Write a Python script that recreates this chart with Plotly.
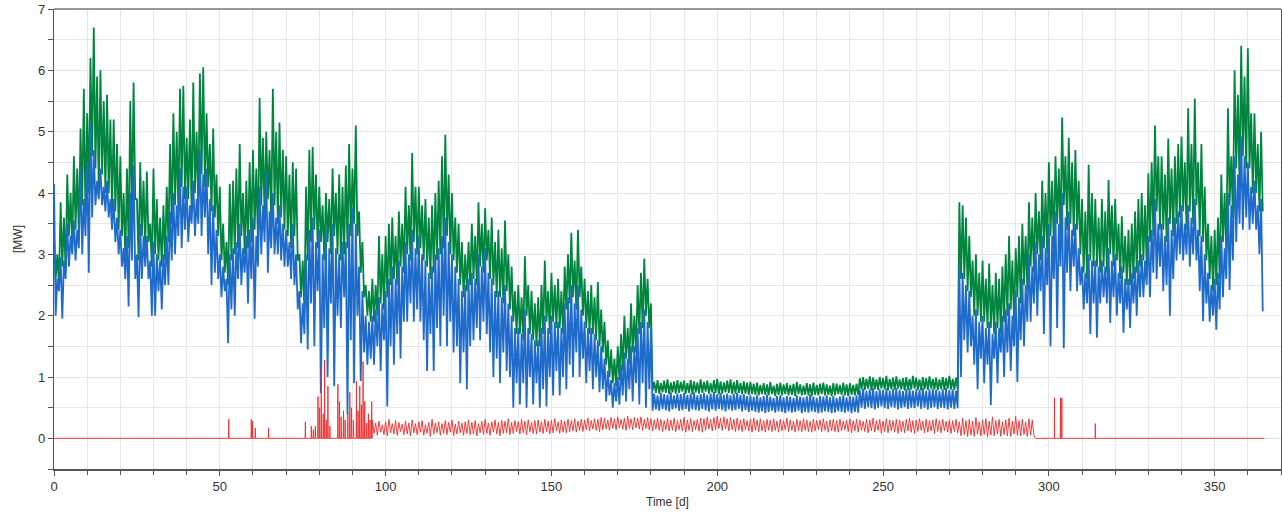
import plotly.graph_objects as go

# ---------------- data ----------------
# One peak (hi) and one trough (lo) per day, days 0..364
days = list(range(0, 365))

green_hi = (
    [3.3, 3.0, 3.85, 3.6, 4.3, 4.0, 4.6, 4.4, 5.05, 5.7,
     5.3, 6.2, 6.7, 5.9, 6.0, 5.5, 5.6, 5.2, 5.2, 4.8,
     4.6, 4.0, 4.4, 5.5, 5.8, 3.9, 4.5, 4.2, 4.35, 3.5,
     4.4, 3.9, 3.6, 3.8, 4.1, 4.8, 5.3, 5.0, 5.7, 5.75,
     4.9, 5.2, 5.8, 5.0, 5.95, 6.05, 5.3, 4.8, 5.05, 4.3,
     4.1, 3.5, 3.2, 4.15, 4.2, 4.4, 4.8, 4.0, 4.2, 4.5,
     4.7, 4.4, 5.55, 4.9, 5.0, 4.7, 5.7, 5.0, 5.15, 4.7,
     4.6, 4.3, 4.5, 4.4, 3.0, 2.9, 4.1, 4.7, 4.75, 4.3,
     4.1, 3.8, 4.0, 3.9, 4.4, 4.0, 4.3, 4.1, 4.45, 4.8,
     4.4, 5.1, 3.7, 3.2, 2.5, 2.4, 2.6, 2.5, 3.3, 3.0,
     3.3, 3.5, 3.6, 3.3, 3.7, 3.5, 4.1, 3.8, 4.65, 4.1,
     4.1, 3.8, 3.9, 3.6, 3.8, 4.0, 4.2, 4.6, 4.95, 4.3,
     4.0, 3.6, 3.5, 3.2, 3.0, 3.2, 3.5, 3.3, 3.85, 3.5,
     3.75, 3.4, 3.6, 3.2, 3.4, 3.1, 3.55, 3.0, 2.8, 2.4,
     2.5, 2.3, 2.97, 2.5, 2.4, 2.2, 2.3, 2.5, 2.9, 2.4,
     2.7, 2.5, 2.6, 2.4, 2.8, 3.0, 3.35, 2.9, 3.4, 2.8,
     2.6, 2.4, 2.5, 2.3, 2.55, 2.1, 1.9, 1.6, 1.45, 1.3,
     1.5, 1.7, 2.0, 1.8, 2.2, 2.0, 2.5, 2.7, 2.93, 2.6,
     2.2,
     0.92, 0.95, 0.90, 0.94, 0.96, 0.91, 0.93, 0.95, 0.92, 0.94,
     0.90, 0.95, 0.93, 0.91, 0.96, 0.92, 0.94, 0.90, 0.95, 0.97,
     0.93, 0.91, 0.94, 0.96, 0.92, 0.95, 0.90, 0.93, 0.91, 0.92,
     0.89, 0.91, 0.87, 0.90, 0.88, 0.92, 0.86, 0.89, 0.91, 0.88,
     0.90, 0.87, 0.89, 0.92, 0.88, 0.86, 0.90, 0.88, 0.91, 0.87,
     0.89, 0.91, 0.88, 0.86, 0.90, 0.89, 0.87, 0.91, 0.88, 0.90,
     0.87, 0.89,
     0.98, 1.00, 0.97, 1.01, 0.99, 0.96, 1.00, 0.98, 1.02, 0.97,
     0.99, 1.01, 0.96, 0.98, 1.00, 0.97, 1.02, 0.99, 0.96, 1.00,
     0.98, 1.01, 0.97, 0.99, 0.96, 1.00, 0.98, 1.02, 0.97, 0.99,
     3.85, 3.8, 3.6, 3.3, 2.9, 3.0, 2.7,
     2.9, 2.6, 2.85, 2.5, 2.7, 2.6, 2.8, 3.0, 3.3, 2.9,
     3.1, 3.3, 3.5, 3.3, 3.85, 3.6, 4.0, 3.7, 4.2, 4.0,
     4.5, 4.2, 4.6, 4.4, 5.23, 4.6, 4.9, 4.5, 4.7, 4.2,
     3.9, 3.7, 4.46, 4.0, 3.9, 3.6, 3.9, 3.7, 4.21, 3.8,
     3.9, 3.5, 3.62, 3.3, 3.4, 3.5, 3.7, 3.9, 4.0, 3.8,
     4.32, 4.5, 5.1, 4.6, 4.6, 4.3, 4.89, 4.4, 4.6, 4.8,
     4.92, 4.5, 5.38, 4.8, 5.54, 4.5, 4.8, 4.1, 3.5, 3.3,
     3.4, 3.6, 4.3, 4.0, 5.38, 4.6, 6.0, 5.6, 6.4, 5.9,
     6.36, 5.3, 5.3, 4.8, 5.0]
)

green_lo = (
    [2.6, 2.5, 2.8, 2.7, 3.3, 3.1, 3.4, 3.3, 3.8, 3.6,
     4.0, 4.6, 4.4, 4.0, 4.3, 4.0, 4.0, 3.7, 3.7, 3.4,
     3.3, 2.9, 3.1, 3.6, 3.9, 2.9, 3.3, 3.1, 3.2, 2.8,
     3.0, 2.9, 2.8, 2.9, 3.2, 3.5, 3.8, 3.7, 4.1, 3.9,
     3.9, 3.7, 4.0, 3.8, 4.3, 4.1, 4.1, 3.7, 3.6, 3.3,
     2.9, 2.7, 2.5, 2.9, 3.0, 3.1, 3.3, 3.0, 3.1, 3.2,
     3.4, 3.2, 3.8, 3.6, 3.9, 3.5, 3.8, 3.5, 3.6, 3.4,
     3.3, 3.1, 3.3, 2.9, 2.3, 2.1, 2.9, 3.2, 3.4, 3.1,
     3.2, 2.9, 3.2, 3.0, 3.3, 3.0, 2.9, 3.0, 3.1, 3.3,
     3.5, 3.3, 2.7, 2.3, 2.0, 1.9, 1.9, 2.0, 2.2, 2.1,
     2.3, 2.5, 2.6, 2.5, 2.8, 2.7, 3.0, 2.9, 3.2, 3.0,
     3.1, 2.9, 2.8, 2.6, 2.7, 2.9, 3.0, 3.1, 3.3, 3.0,
     2.9, 2.7, 2.5, 2.3, 2.4, 2.5, 2.6, 2.5, 2.8, 2.7,
     2.9, 2.6, 2.5, 2.3, 2.3, 2.2, 2.4, 2.1, 1.9, 1.7,
     1.7, 1.6, 2.0, 1.7, 1.6, 1.5, 1.5, 1.7, 1.9, 1.7,
     1.9, 1.8, 1.8, 1.7, 2.1, 2.2, 2.3, 2.1, 2.3, 2.0,
     1.8, 1.7, 1.7, 1.6, 1.5, 1.4, 1.2, 1.0, 0.9, 0.85,
     0.95, 1.1, 1.3, 1.2, 1.4, 1.4, 1.7, 1.8, 2.0, 1.8,
     0.78,
     0.74, 0.73, 0.75, 0.74, 0.72, 0.75, 0.73, 0.74, 0.76, 0.73,
     0.74, 0.72, 0.75, 0.73, 0.74, 0.76, 0.73, 0.75, 0.74, 0.72,
     0.73, 0.75, 0.74, 0.72, 0.73, 0.74, 0.72, 0.73, 0.71, 0.72,
     0.71, 0.70, 0.72, 0.71, 0.70, 0.72, 0.69, 0.71, 0.70, 0.72,
     0.70, 0.71, 0.69, 0.72, 0.70, 0.71, 0.70, 0.69, 0.71, 0.70,
     0.72, 0.70, 0.71, 0.69, 0.70, 0.72, 0.71, 0.70, 0.69, 0.71,
     0.70, 0.71,
     0.80, 0.79, 0.81, 0.78, 0.80, 0.79, 0.81, 0.80, 0.78, 0.80,
     0.79, 0.81, 0.80, 0.78, 0.79, 0.80, 0.81, 0.79, 0.78, 0.80,
     0.79, 0.81, 0.80, 0.78, 0.80, 0.79, 0.81, 0.80, 0.79, 0.80,
     2.6, 2.6, 2.4, 2.3, 2.0, 2.0, 1.9,
     1.9, 1.8, 1.8, 1.7, 1.8, 1.7, 1.9, 2.0, 2.1, 1.9,
     2.3, 2.2, 2.5, 2.4, 2.8, 2.7, 3.0, 2.9, 3.1, 3.0,
     3.3, 3.1, 3.5, 3.3, 3.8, 3.4, 3.5, 3.3, 3.4, 3.0,
     2.7, 2.6, 2.9, 2.8, 2.8, 2.7, 2.8, 2.7, 3.0, 2.8,
     2.9, 2.6, 2.7, 2.5, 2.5, 2.6, 2.7, 2.8, 2.9, 2.8,
     3.2, 3.3, 3.7, 3.4, 3.4, 3.2, 3.5, 3.3, 3.5, 3.6,
     3.7, 3.4, 3.7, 3.5, 3.8, 3.3, 3.2, 2.9, 2.6, 2.4,
     2.5, 2.6, 3.2, 3.0, 3.8, 3.6, 4.4, 4.1, 4.6, 4.4,
     4.4, 4.0, 4.0, 3.7, 3.7]
)

blue_hi = (
    [4.15, 2.6, 2.95, 2.9, 3.5, 3.3, 3.55, 3.4, 4.4, 3.9,
     4.5, 5.15, 4.7, 4.2, 4.4, 4.1, 4.2, 3.9, 3.9, 3.6,
     3.4, 3.1, 3.3, 4.0, 4.45, 3.0, 3.5, 3.3, 3.3, 2.9,
     3.2, 3.0, 2.9, 3.0, 3.3, 3.7, 4.0, 3.8, 4.4, 4.1,
     4.1, 3.8, 4.2, 3.9, 4.7, 4.3, 4.4, 3.9, 3.8, 3.4,
     3.0, 2.8, 2.6, 3.0, 3.1, 3.2, 3.5, 3.1, 3.3, 3.4,
     3.6, 3.3, 4.1, 3.8, 4.35, 3.7, 4.0, 3.6, 3.8, 3.5,
     3.4, 3.2, 3.5, 3.0, 2.4, 2.2, 3.0, 3.4, 3.6, 3.2,
     3.4, 3.0, 3.4, 3.1, 3.5, 3.1, 3.0, 3.2, 3.2, 3.5,
     3.75, 3.5, 2.8, 2.4, 2.0, 1.9, 2.0, 2.1, 2.3, 2.2,
     2.4, 2.6, 2.8, 2.6, 2.9, 2.8, 3.2, 3.0, 3.4, 3.1,
     3.3, 3.0, 2.9, 2.7, 2.8, 3.0, 3.1, 3.3, 3.6, 3.2,
     3.0, 2.8, 2.6, 2.4, 2.5, 2.6, 2.7, 2.6, 3.0, 2.8,
     3.1, 2.7, 2.6, 2.4, 2.4, 2.3, 2.5, 2.2, 2.0, 1.8,
     1.8, 1.7, 2.1, 1.8, 1.7, 1.6, 1.6, 1.8, 2.0, 1.8,
     2.0, 1.9, 1.9, 1.8, 2.2, 2.3, 2.5, 2.2, 2.5, 2.1,
     1.9, 1.8, 1.8, 1.7, 1.6, 1.5, 1.3, 1.1, 0.95, 0.9,
     1.0, 1.2, 1.4, 1.3, 1.5, 1.5, 1.8, 1.9, 2.1, 1.9,
     1.8,
     0.73, 0.70, 0.74, 0.72, 0.71, 0.75, 0.70, 0.73, 0.72, 0.74,
     0.71, 0.73, 0.75, 0.70, 0.72, 0.74, 0.71, 0.73, 0.76, 0.72,
     0.74, 0.71, 0.73, 0.70, 0.72, 0.74, 0.71, 0.72, 0.69, 0.70,
     0.68, 0.70, 0.67, 0.69, 0.71, 0.68, 0.66, 0.69, 0.70, 0.67,
     0.69, 0.68, 0.66, 0.70, 0.68, 0.67, 0.69, 0.71, 0.68, 0.66,
     0.69, 0.68, 0.70, 0.67, 0.69, 0.66, 0.68, 0.70, 0.67, 0.69,
     0.68, 0.70,
     0.79, 0.81, 0.78, 0.80, 0.82, 0.77, 0.80, 0.79, 0.81, 0.78,
     0.80, 0.82, 0.79, 0.77, 0.80, 0.81, 0.78, 0.80, 0.79, 0.82,
     0.78, 0.80, 0.81, 0.79, 0.77, 0.80, 0.82, 0.79, 0.80, 0.78,
     2.8, 2.7, 2.5, 2.4, 2.0, 2.1, 1.9,
     2.0, 1.8, 1.9, 1.7, 1.9, 1.8, 2.0, 2.1, 2.2, 2.0,
     2.4, 2.3, 2.6, 2.5, 3.0, 2.8, 3.2, 3.0, 3.3, 3.1,
     3.5, 3.3, 3.7, 3.5, 4.0, 3.6, 3.7, 3.4, 3.5, 3.1,
     2.8, 2.7, 3.0, 2.9, 2.9, 2.8, 2.9, 2.8, 3.1, 2.9,
     3.0, 2.7, 2.8, 2.6, 2.6, 2.7, 2.8, 2.9, 3.0, 2.9,
     3.3, 3.4, 3.9, 3.5, 3.5, 3.3, 3.6, 3.4, 3.6, 3.7,
     3.8, 3.5, 3.8, 3.6, 3.9, 3.4, 3.3, 3.0, 2.7, 2.5,
     2.6, 2.7, 3.3, 3.1, 4.0, 3.8, 4.6, 4.3, 4.92, 4.6,
     4.5, 4.1, 4.2, 3.8, 3.9]
)

blue_lo = (
    [2.0, 2.4, 1.95, 2.6, 2.8, 3.0, 2.9, 3.1, 3.0, 3.3,
     2.7, 3.6, 3.8, 3.9, 3.8, 3.7, 3.6, 3.4, 3.2, 3.0,
     2.8, 2.6, 2.15, 2.9, 2.6, 1.98, 2.6, 2.8, 2.6, 2.0,
     2.0, 2.4, 2.1, 2.5, 2.5, 2.9, 3.0, 3.3, 3.1, 3.4,
     3.2, 3.5, 3.3, 3.5, 3.3, 3.6, 3.0, 2.5, 2.7, 2.6,
     2.3, 2.4, 1.55, 2.1, 2.0, 2.6, 2.5, 2.7, 2.2, 2.6,
     1.95, 2.8, 3.0, 3.2, 2.7, 3.1, 3.0, 3.0, 2.9, 2.8,
     2.8, 2.6, 2.5, 2.1, 1.55, 1.7, 1.45, 2.2, 1.5, 2.4,
     0.74, 1.8, 1.0, 2.2, 0.85, 2.0, 1.8, 2.3, 0.39, 1.6,
     0.9, 2.0, 0.93, 1.4, 1.2, 1.3, 1.2, 1.5, 1.1, 1.6,
     0.52, 1.5, 1.2, 1.7, 1.3, 1.9, 1.9, 2.2, 1.9, 2.1,
     1.9, 1.6, 1.1, 1.7, 1.1, 1.8, 1.5, 2.0, 1.5, 1.9,
     1.4, 1.5, 0.9, 1.4, 0.8, 1.5, 1.6, 1.8, 1.6, 1.9,
     1.7, 1.4, 1.0, 1.3, 0.9, 1.4, 1.1, 1.0, 0.5, 0.9,
     0.55, 0.9, 0.5, 1.0, 0.55, 0.9, 0.5, 0.8, 0.52, 1.0,
     0.7, 1.1, 0.7, 1.0, 0.8, 1.2, 1.0, 1.4, 1.0, 1.3,
     0.9, 1.1, 0.8, 1.0, 0.75, 0.8, 0.6, 0.7, 0.5, 0.6,
     0.55, 0.7, 0.6, 0.8, 0.6, 0.9, 0.55, 0.9, 0.5, 0.8,
     0.45,
     0.47, 0.45, 0.48, 0.46, 0.44, 0.47, 0.49, 0.45, 0.46, 0.48,
     0.44, 0.47, 0.46, 0.45, 0.48, 0.46, 0.44, 0.47, 0.45, 0.48,
     0.46, 0.44, 0.47, 0.45, 0.46, 0.48, 0.44, 0.46, 0.43, 0.45,
     0.43, 0.42, 0.44, 0.41, 0.43, 0.45, 0.42, 0.44, 0.43, 0.41,
     0.44, 0.42, 0.43, 0.45, 0.41, 0.43, 0.42, 0.44, 0.43, 0.41,
     0.42, 0.44, 0.43, 0.41, 0.42, 0.44, 0.43, 0.42, 0.44, 0.41,
     0.43, 0.42,
     0.50, 0.48, 0.51, 0.49, 0.47, 0.50, 0.52, 0.49, 0.48, 0.51,
     0.50, 0.47, 0.49, 0.51, 0.48, 0.50, 0.49, 0.52, 0.48, 0.50,
     0.47, 0.49, 0.51, 0.48, 0.50, 0.49, 0.47, 0.50, 0.48, 0.49,
     1.0, 1.6, 1.4, 1.5, 1.2, 0.8, 1.3,
     0.9, 1.2, 0.54, 1.3, 0.9, 1.4, 1.0, 1.4, 1.1, 1.5,
     0.92, 1.6, 1.5, 1.9, 1.9, 2.2, 2.0, 2.4, 1.7, 2.5,
     1.5, 2.6, 1.8, 2.8, 1.47, 2.7, 2.4, 2.8, 2.4, 2.5,
     2.1, 2.2, 1.7, 2.2, 1.64, 2.2, 2.3, 2.2, 1.88, 2.3,
     2.0, 2.2, 1.72, 2.1, 1.8, 2.2, 2.0, 2.3, 2.3, 2.5,
     2.3, 2.7, 2.6, 2.8, 2.4, 2.5, 2.0, 2.6, 2.9, 3.0,
     2.9, 3.0, 2.8, 3.0, 2.9, 2.4, 1.91, 2.2, 1.9, 2.0,
     1.77, 2.1, 2.3, 2.6, 2.42, 2.9, 3.2, 3.5, 3.4, 3.6,
     3.4, 3.5, 3.4, 3.0, 2.07]
)

# red series: isolated spikes in spring, daily oscillation day 96-295, spikes in autumn
red_spike_days = [52.7, 59.5, 59.9, 60.7, 64.7, 75.8, 77.6, 78.2, 78.8, 79.6,
                  80.1, 80.6, 81.2, 81.6, 82.1, 82.6, 83.2, 85.6, 86.1, 86.6,
                  87.3, 87.8, 88.6, 89.2, 89.7, 90.3, 91.2, 91.7, 92.2, 92.7,
                  93.2, 93.7, 94.3, 94.8, 95.3, 95.8]
red_spike_vals = [0.31, 0.31, 0.28, 0.17, 0.17, 0.27, 0.2, 0.14, 0.2, 0.68,
                  0.5, 1.17, 0.4, 1.28, 0.3, 0.85, 0.2, 0.88, 0.6, 0.35,
                  0.45, 0.3, 0.4, 0.75, 0.5, 0.3, 0.93, 0.45, 0.85, 0.55,
                  1.25, 0.6, 0.25, 0.4, 0.3, 0.6]

red_osc_first_day = 96
red_osc_hi = [0.30, 0.25, 0.28, 0.22, 0.27, 0.31, 0.24, 0.29, 0.26, 0.23,
              0.28, 0.25, 0.30, 0.24, 0.27, 0.29, 0.22, 0.26, 0.31, 0.25,
              0.27, 0.24, 0.29, 0.26, 0.30, 0.23, 0.28, 0.25, 0.27, 0.30,
              0.26, 0.29, 0.24, 0.28, 0.31, 0.25, 0.27, 0.30, 0.26, 0.29,
              0.28, 0.32, 0.26, 0.29, 0.27, 0.31, 0.28, 0.30, 0.26, 0.29,
              0.30, 0.27, 0.31, 0.28, 0.29, 0.32, 0.27, 0.30, 0.28, 0.31,
              0.29, 0.32, 0.28, 0.31, 0.30, 0.33, 0.29, 0.32, 0.31, 0.34,
              0.33, 0.30, 0.34, 0.32, 0.35, 0.31, 0.33, 0.36, 0.32, 0.34,
              0.33, 0.35, 0.31, 0.34, 0.32, 0.30, 0.33, 0.31, 0.29, 0.32,
              0.30, 0.33, 0.29, 0.31, 0.34, 0.30, 0.32, 0.29, 0.31, 0.33,
              0.32, 0.35, 0.31, 0.34, 0.36, 0.33, 0.35, 0.32, 0.34, 0.31,
              0.33, 0.30, 0.32, 0.29, 0.31, 0.33, 0.30, 0.32, 0.29, 0.31,
              0.30, 0.32, 0.28, 0.31, 0.29, 0.33, 0.30, 0.28, 0.31, 0.29,
              0.32, 0.30, 0.28, 0.31, 0.29, 0.30, 0.32, 0.28, 0.30, 0.31,
              0.29, 0.31, 0.28, 0.30, 0.32, 0.29, 0.31, 0.30, 0.28, 0.31,
              0.30, 0.33, 0.29, 0.31, 0.28, 0.32, 0.30, 0.29, 0.31, 0.30,
              0.28, 0.31, 0.33, 0.29, 0.30, 0.32, 0.28, 0.31, 0.29, 0.30,
              0.32, 0.29, 0.31, 0.28, 0.30, 0.29, 0.31, 0.27, 0.33, 0.29,
              0.31, 0.28, 0.34, 0.27, 0.30, 0.32, 0.28, 0.35, 0.29, 0.31,
              0.27, 0.30, 0.33, 0.28, 0.36, 0.29, 0.31, 0.27, 0.32, 0.30]
red_osc_lo = [0.08, 0.05, 0.10, 0.06, 0.04, 0.09, 0.07, 0.05, 0.11, 0.06,
              0.07, 0.04, 0.09, 0.06, 0.10, 0.05, 0.08, 0.03, 0.07, 0.09,
              0.05, 0.08, 0.06, 0.10, 0.04, 0.07, 0.09, 0.05, 0.08, 0.06,
              0.07, 0.04, 0.09, 0.06, 0.08, 0.05, 0.10, 0.07, 0.04, 0.08,
              0.09, 0.06, 0.08, 0.11, 0.07, 0.09, 0.06, 0.10, 0.08, 0.07,
              0.10, 0.08, 0.11, 0.07, 0.09, 0.12, 0.08, 0.10, 0.09, 0.11,
              0.12, 0.10, 0.13, 0.11, 0.14, 0.12, 0.15, 0.13, 0.11, 0.14,
              0.15, 0.13, 0.16, 0.14, 0.17, 0.15, 0.13, 0.16, 0.14, 0.17,
              0.15, 0.13, 0.16, 0.14, 0.12, 0.15, 0.13, 0.11, 0.14, 0.12,
              0.13, 0.11, 0.14, 0.12, 0.10, 0.13, 0.11, 0.14, 0.12, 0.10,
              0.13, 0.15, 0.12, 0.14, 0.16, 0.13, 0.15, 0.12, 0.14, 0.11,
              0.13, 0.11, 0.14, 0.12, 0.10, 0.13, 0.11, 0.12, 0.10, 0.13,
              0.11, 0.13, 0.10, 0.12, 0.14, 0.11, 0.13, 0.10, 0.12, 0.11,
              0.13, 0.11, 0.10, 0.12, 0.14, 0.11, 0.13, 0.10, 0.12, 0.11,
              0.10, 0.12, 0.14, 0.11, 0.09, 0.12, 0.10, 0.13, 0.11, 0.09,
              0.12, 0.10, 0.13, 0.08, 0.11, 0.09, 0.12, 0.10, 0.08, 0.11,
              0.09, 0.12, 0.10, 0.08, 0.11, 0.13, 0.09, 0.10, 0.12, 0.08,
              0.11, 0.09, 0.12, 0.10, 0.08, 0.11, 0.09, 0.04, 0.06, 0.03,
              0.05, 0.03, 0.07, 0.04, 0.06, 0.02, 0.05, 0.04, 0.07, 0.03,
              0.06, 0.04, 0.03, 0.07, 0.05, 0.04, 0.06, 0.03, 0.05, 0.04]

red_late_spike_days = [301.7, 303.5, 303.9, 314.0]
red_late_spike_vals = [0.66, 0.66, 0.66, 0.24]
red_end_day = 365

x_ticks = [0, 50, 100, 150, 200, 250, 300, 350]
y_ticks = [0, 1, 2, 3, 4, 5, 6, 7]

GREEN = "#00853f"
BLUE = "#1f6bcc"
RED = "#ee2b2b"

# ---------------- build traces ----------------
def zigzag(ds, hi, lo):
    xs, ys = [], []
    for d, h, l in zip(ds, hi, lo):
        xs += [d, d + 0.5]
        ys += [h, l]
    return xs, ys

gx, gy = zigzag(days, green_hi, green_lo)
bx, by = zigzag(days, blue_hi, blue_lo)

rx, ry = [0], [0]
for d, v in zip(red_spike_days, red_spike_vals):
    rx += [d - 0.08, d, d + 0.08]
    ry += [0, v, 0]
for i, (h, l) in enumerate(zip(red_osc_hi, red_osc_lo)):
    d = red_osc_first_day + i
    rx += [d, d + 0.5]
    ry += [h, l]
rx += [red_osc_first_day + len(red_osc_hi)]
ry += [0]
for d, v in zip(red_late_spike_days, red_late_spike_vals):
    rx += [d - 0.05, d, d + 0.05]
    ry += [0, v, 0]
rx += [red_end_day]
ry += [0]

fig = go.Figure()
fig.add_trace(go.Scatter(x=gx, y=gy, mode="lines", line=dict(color=GREEN, width=1.8), hoverinfo="skip"))
fig.add_trace(go.Scatter(x=bx, y=by, mode="lines", line=dict(color=BLUE, width=1.8), hoverinfo="skip"))
fig.add_trace(go.Scatter(x=rx, y=ry, mode="lines", line=dict(color=RED, width=0.9), hoverinfo="skip"))

grid = "#e6e6e6"
axcol = "#555555"
fig.update_layout(
    width=1282, height=514,
    margin=dict(l=54, r=1, t=9, b=45),
    paper_bgcolor="white", plot_bgcolor="white",
    showlegend=False,
    font=dict(family="Liberation Sans, Arial, sans-serif", size=13, color="#333333"),
    xaxis=dict(
        range=[0, 370], tickvals=x_ticks, showgrid=True, gridcolor=grid, gridwidth=1,
        ticks="outside", ticklen=5, tickcolor=axcol, tickwidth=1,
        showline=True, linecolor=axcol, linewidth=1.5, mirror=False, zeroline=False,
        minor=dict(dtick=10, tick0=0, showgrid=True, gridcolor=grid, ticks="outside", ticklen=4, tickcolor=axcol),
        title=dict(text="Time [d]", font=dict(size=12), standoff=4),
    ),
    yaxis=dict(
        range=[-0.5, 7], tickvals=y_ticks, showgrid=True, gridcolor=grid, gridwidth=1,
        ticks="outside", ticklen=5, tickcolor=axcol, tickwidth=1,
        showline=True, linecolor=axcol, linewidth=1.2, mirror=True, zeroline=False,
        minor=dict(dtick=0.5, tick0=0, showgrid=True, gridcolor=grid, ticks="outside", ticklen=5, tickcolor=axcol),
        title=dict(text="[MW]", font=dict(size=12), standoff=12),
    ),
    shapes=[dict(type="line", xref="paper", yref="paper", x0=0, x1=1, y0=1, y1=1,
                 line=dict(color="#999999", width=2))],
)

fig.write_html("out.html", config={"displayModeBar": False},
               post_script="document.body.style.margin='0px';")
